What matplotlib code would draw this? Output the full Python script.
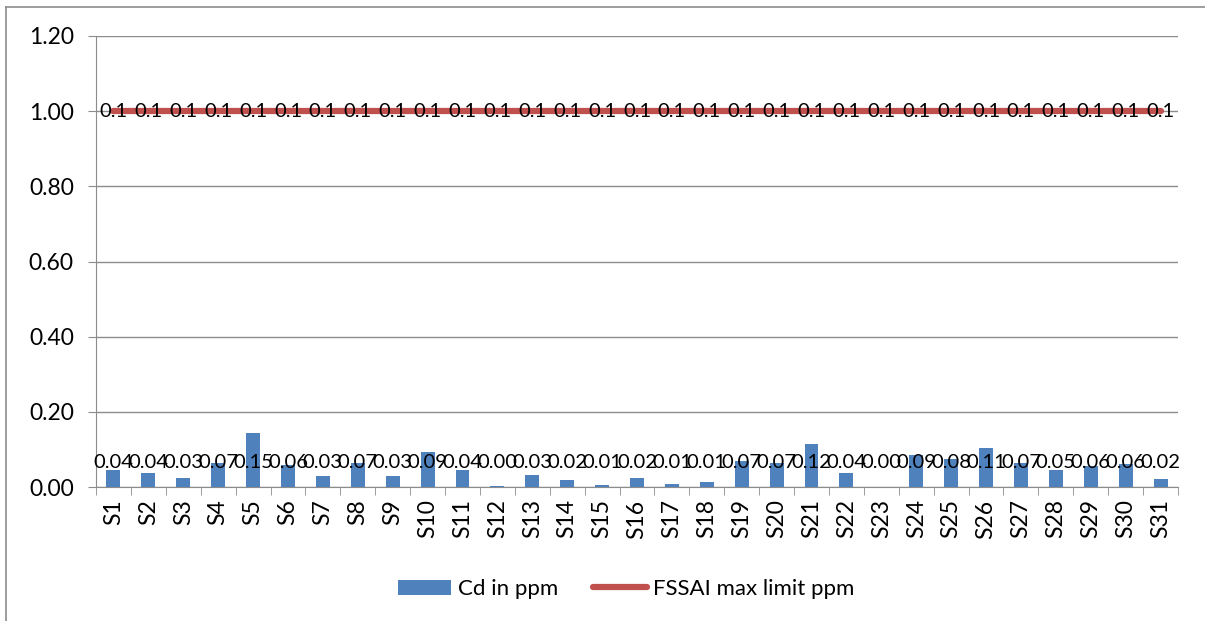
import numpy as np
import matplotlib.pyplot as plt
from matplotlib.lines import Line2D

plt.rcParams['font.family'] = ['Lato', 'DejaVu Sans']

samples = ["S%d" % i for i in range(1, 32)]
cd_ppm = [0.045, 0.037, 0.025, 0.065, 0.145, 0.058, 0.028, 0.065, 0.028, 0.092,
          0.045, 0.003, 0.031, 0.018, 0.005, 0.024, 0.009, 0.012, 0.068, 0.065,
          0.115, 0.037, 0.0, 0.086, 0.075, 0.104, 0.065, 0.044, 0.056, 0.062, 0.021]
cd_labels = ["0.04", "0.04", "0.03", "0.07", "0.15", "0.06", "0.03", "0.07", "0.03", "0.09",
             "0.04", "0.00", "0.03", "0.02", "0.01", "0.02", "0.01", "0.01", "0.07", "0.07",
             "0.12", "0.04", "0.00", "0.09", "0.08", "0.11", "0.07", "0.05", "0.06", "0.06", "0.02"]
limit_ppm = [1.0] * 31
limit_label = "0.1"
yticks = [0.0, 0.2, 0.4, 0.6, 0.8, 1.0, 1.2]

blue = '#4F81BD'
red = '#C0504D'
grey = '#8C8C8C'

fig = plt.figure(figsize=(12.05, 6.21), dpi=100)
ax = fig.add_axes([96/1205, 1-487/621, (1178-96)/1205, (487-36)/621])

x = np.arange(len(samples))
bars = ax.bar(x, cd_ppm, width=0.4, color=blue, label='Cd in ppm', zorder=3)
line, = ax.plot(x, limit_ppm, color=red, lw=4.5, solid_capstyle='round',
                label='FSSAI max limit ppm', zorder=4)

# data labels (they overlap in the original too)
for xi, lab in zip(x, cd_labels):
    ax.text(xi, 0.066, lab, ha='center', va='center', fontsize=14.5, zorder=5)
for xi, v in zip(x, limit_ppm):
    ax.text(xi, v, limit_label, ha='center', va='center', fontsize=14.5, zorder=5)

ax.set_xlim(-0.5, len(samples) - 0.5)
ax.set_ylim(0, 1.2)
ax.set_yticks(yticks)
ax.set_yticklabels(["%.2f" % t for t in yticks], fontsize=16.5)
ax.yaxis.grid(True, color=grey, lw=1)
ax.set_axisbelow(True)

ax.set_xticks(x)
ax.set_xticklabels(samples, rotation=90, fontsize=16.5)
ax.set_xticks(np.arange(-0.5, len(samples)), minor=True)
ax.tick_params(axis='x', which='major', length=0, pad=9)
ax.tick_params(axis='x', which='minor', length=6, color=grey, direction='out')
ax.tick_params(axis='y', length=6, color=grey, direction='out', pad=10)

for s in ['top', 'right']:
    ax.spines[s].set_visible(False)
for s in ['left', 'bottom']:
    ax.spines[s].set_color(grey)

ax.legend(handles=[bars, line], loc='upper center', bbox_to_anchor=(0.49, -0.16), ncol=2,
          frameon=False, fontsize=16, handlelength=2.4, columnspacing=1.6, handletextpad=0.3)

# outer chart border
fig.add_artist(Line2D([6/1205, 6/1205], [0, 1-7/621], color=grey, lw=1.2))
fig.add_artist(Line2D([6/1205, 1], [1-7/621, 1-7/621], color=grey, lw=1.2))

fig.savefig('out.png', dpi=100)
